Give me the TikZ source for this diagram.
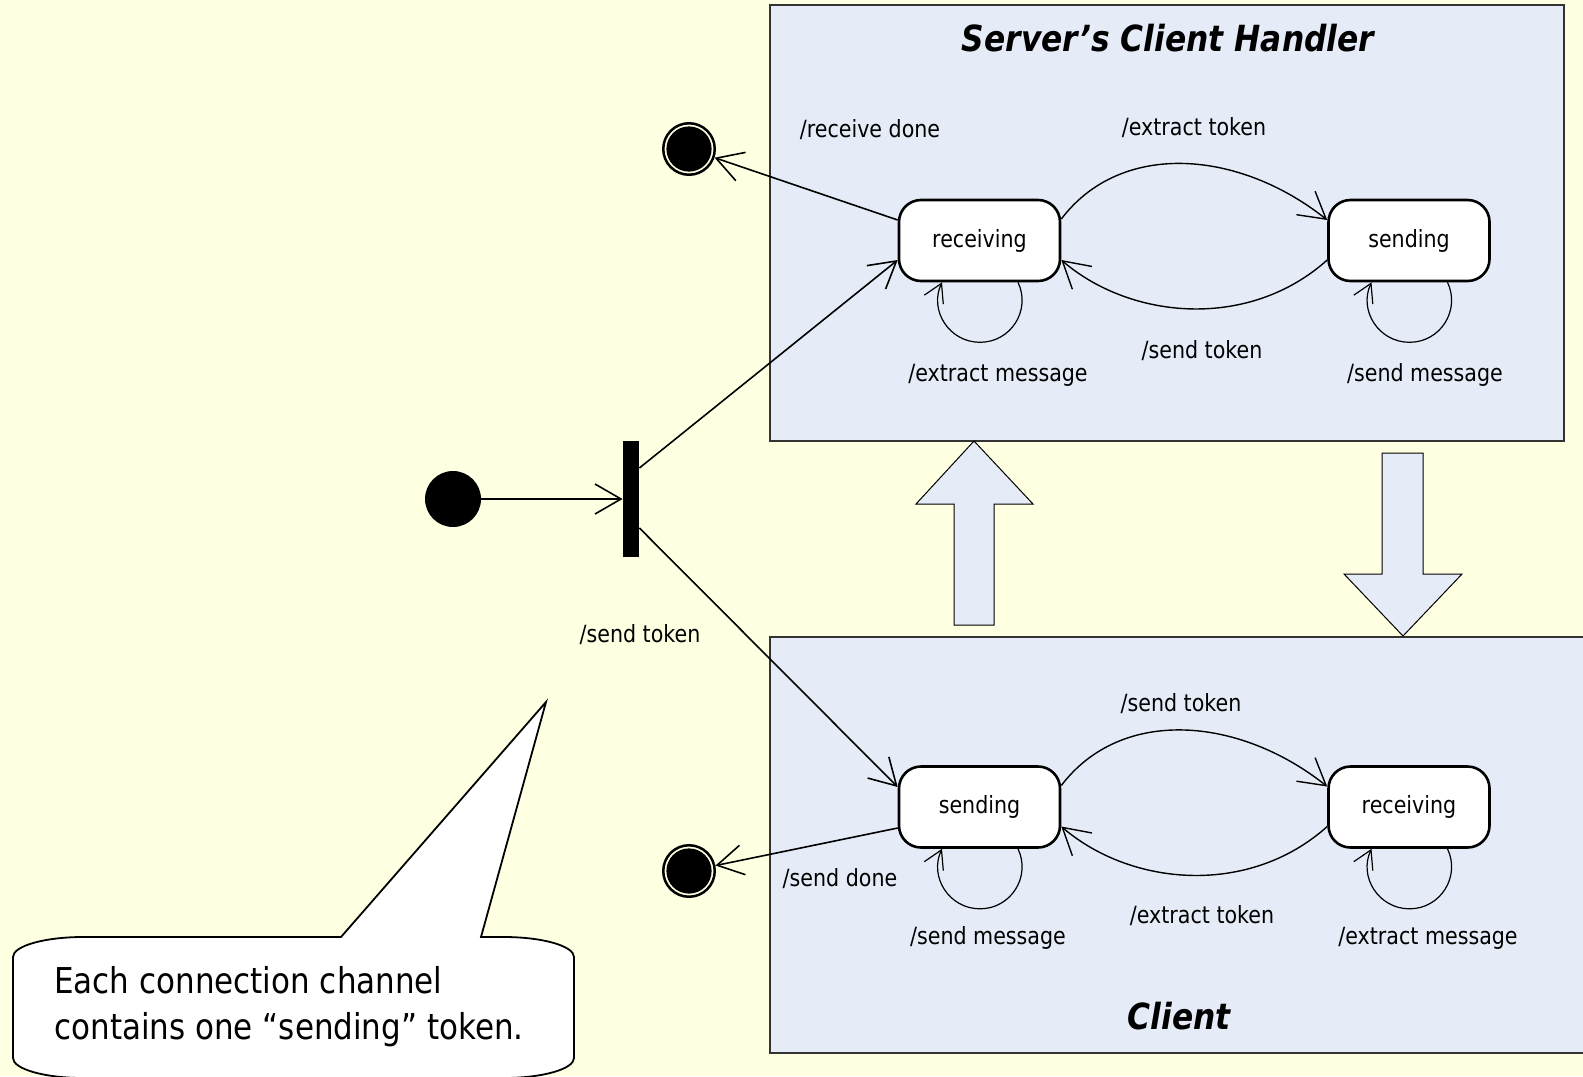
\documentclass[tikz,border=0pt]{standalone}
\usepackage{fontspec}
\setmainfont{DejaVu Sans}[FakeStretch=0.87]
\usetikzlibrary{arrows.meta,calc}
\definecolor{bgc}{HTML}{FFFFE1}
\definecolor{boxc}{HTML}{E6ECF7}
\newcommand\lblfont{\fontsize{11.85}{14}\selectfont}
\newcommand\calfont{\fontsize{17.8}{23}\selectfont}
\newcommand\ttlfont{\fontsize{18}{22}\selectfont\bfseries\itshape}
\newcommand\selfloop[1]{%
  \draw[loopc] ($(#1.south)+(38.5,0)$) .. controls ($(#1.south)+(51.7,27.9)$) and ($(#1.south)+(31.4,60)$) .. ($(#1.south)+(0.5,60)$)
    .. controls ($(#1.south)+(-30.4,60)$) and ($(#1.south)+(-50.7,27.9)$) .. ($(#1.south)+(-37.5,0)$);}
\begin{document}
\begin{tikzpicture}[x=0.5pt,y=-0.5pt,
  stbox/.style={draw, line width=1.3pt, fill=white, rounded corners=11pt, minimum width=80.5pt, minimum height=40.5pt, inner sep=0pt, font=\lblfont},
  lbl/.style={inner sep=0pt, font=\lblfont},
  conn/.style={line width=0.8pt, -{Straight Barb[length=13pt,width=15pt]}},
  curv/.style={line width=0.7pt, -{Straight Barb[length=13pt,width=15pt]}},
  loopc/.style={line width=0.6pt, -{Straight Barb[length=9pt,width=10.5pt]}},
  finalst/.style={circle, draw, line width=1.25pt, fill=bgc, minimum size=25.75pt, inner sep=0pt},
  blk/.style={draw, line width=0.5pt, fill=boxc},
  frame/.style={draw=black!80, line width=0.7pt, fill=boxc}]
\clip (0,0) rectangle (1583,1076);
\fill[bgc] (0,0) rectangle (1583,1076);

% containers
\draw[frame] (770,5) rectangle (1564,441);
\draw[frame] (770,637) rectangle (1600,1053);
\node[font=\ttlfont, inner sep=0pt] (t1) at (1168,38) {Server’s Client Handler};
\node[font=\ttlfont, inner sep=0pt] (t2) at (1179,1016) {Client};

% block arrows
\draw[blk] (954,625) -- (954,504) -- (916,504) -- (974,441) -- (1033,504) -- (994,504) -- (994,625) -- cycle;
\draw[blk] (1382,453) -- (1423,453) -- (1423,574) -- (1462,574) -- (1403,636) -- (1344,574) -- (1382,574) -- cycle;

% states
\node[stbox] (r1) at (979.5,240.5) {receiving};
\node[stbox] (s1) at (1409,240.5) {sending};
\node[stbox] (s2) at (979.5,807) {sending};
\node[stbox] (r2) at (1409,807) {receiving};

% pseudo states
\node[circle, fill=black, minimum size=28pt, inner sep=0pt] (i0) at (453,499) {};
\node[fill=black, minimum width=8pt, minimum height=58pt, inner sep=0pt] (bar) at (631,499) {};
\node[finalst] (f1) at (689,149) {};
\fill (f1.center) circle[radius=11.3pt];
\node[finalst] (f2) at (689,871) {};
\fill (f2.center) circle[radius=11.3pt];

% connectors
\draw[conn] (i0) -- (bar);
\draw[conn] ($(bar.east)+(0,-31)$) -- ($(r1.west)+(0,19.5)$);
\draw[conn] ($(bar.east)+(0,29)$) -- ($(s2.west)+(0,-20)$);
\draw[conn] ($(r1.west)+(0,-20.5)$) -- (f1);
\draw[conn] ($(s2.west)+(0,21)$) -- (f2);

\draw[curv] ($(r1.east)+(0,-21.5)$) .. controls ($(r1.east)+(60,-100.5)$) and ($(s1.west)+(-88,-90.5)$) .. ($(s1.west)+(0,-20.5)$);
\draw[curv] ($(s1.west)+(0,19.5)$) .. controls ($(s1.west)+(-78,89.5)$) and ($(r1.east)+(70,79.5)$) .. ($(r1.east)+(0,19.5)$);
\draw[curv] ($(s2.east)+(0,-21.5)$) .. controls ($(s2.east)+(60,-100.5)$) and ($(r2.west)+(-88,-90.5)$) .. ($(r2.west)+(0,-20.5)$);
\draw[curv] ($(r2.west)+(0,19.5)$) .. controls ($(r2.west)+(-78,89.5)$) and ($(s2.east)+(70,79.5)$) .. ($(s2.east)+(0,19.5)$);

\selfloop{r1}
\selfloop{s1}
\selfloop{s2}
\selfloop{r2}

% labels
\node[lbl] (l1) at (870,130) {/receive done};
\node[lbl] (l2) at (1194,128) {/extract token};
\node[lbl] (l3) at (1202,351) {/send token};
\node[lbl] (l4) at (998,375) {/extract message};
\node[lbl] (l5) at (1425,375) {/send message};
\node[lbl] (l6) at (640,635) {/send token};
\node[lbl] (l7) at (1181,704) {/send token};
\node[lbl] (l8) at (840,879) {/send done};
\node[lbl] (l9) at (988,938) {/send message};
\node[lbl] (l10) at (1202,916) {/extract token};
\node[lbl] (l11) at (1428,938) {/extract message};

% callout
\draw[line width=0.9pt, fill=white] (341,937) -- (546,702) -- (481,937) -- (504,937)
  .. controls (542.6,937) and (574,946) .. (574,957) -- (574,1058)
  .. controls (574,1069) and (542.6,1078) .. (504,1078) -- (83,1078)
  .. controls (44.4,1078) and (13,1069) .. (13,1058) -- (13,957)
  .. controls (13,946) and (44.4,937) .. (83,937) -- cycle;
\node[anchor=west, align=left, inner sep=0pt, font=\calfont] (note) at (54,1007) {Each connection channel\\contains one “sending” token.};
\end{tikzpicture}
\end{document}
